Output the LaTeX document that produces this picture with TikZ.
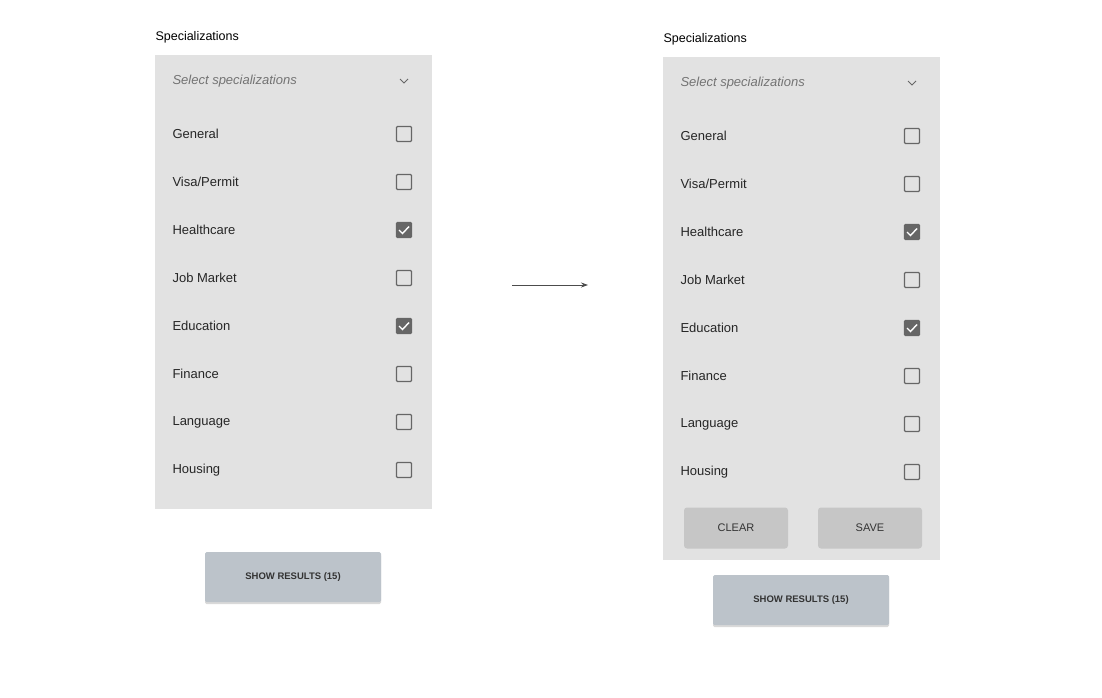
\documentclass[tikz,border=0pt]{standalone}
\usepackage{fontspec}
\setmainfont{Liberation Sans}
\usetikzlibrary{arrows.meta,positioning,shadows}

\definecolor{panelgray}{HTML}{E2E2E2}
\definecolor{btngray}{HTML}{C6C6C6}
\definecolor{showbtn}{HTML}{BCC3CA}
\definecolor{boxgray}{HTML}{666666}

\tikzset{
  panel/.style={fill=panelgray, draw=none},
  label/.style={anchor=west, font=\fontsize{13}{15}\selectfont, text=black!85},
  hint/.style={anchor=west, font=\fontsize{13}{15}\selectfont\itshape, text=black!55},
  title/.style={anchor=west, font=\fontsize{12.5}{15}\selectfont},
  tick/.style={draw=boxgray, line width=1.3pt, rounded corners=1pt, minimum size=15pt, inner sep=0pt},
  ticked/.style={tick, fill=boxgray},
  smallbtn/.style={fill=btngray, rounded corners=3pt, minimum width=104pt, minimum height=41pt, font=\fontsize{11}{13}\selectfont, text=black!80},
  showbox/.style={fill=showbtn, rounded corners=1.5pt, minimum width=176pt, minimum height=50pt, font=\bfseries\fontsize{9.5}{12}\selectfont, text=black!80, drop shadow={shadow xshift=0pt, shadow yshift=-2pt, opacity=0.3}},
}

\begin{document}
\begin{tikzpicture}[x=1pt, y=-1pt]
\useasboundingbox (0,0) rectangle (1102,697);

% left panel (before)
\node[title] (tl) at (152,37) {Specializations};
\fill[panel] (155,55) rectangle (432,509);
\node[hint] (hl) at (169,81) {Select specializations};
\draw[black!60, line width=1pt] (400,79) -- (404,83) -- (408,79);
\foreach \name/\row/\on in {General/0/0, {Visa/Permit}/1/0, Healthcare/2/1, Job Market/3/0,
                            Education/4/1, Finance/5/0, Language/6/0, Housing/7/0} {
  \node[label] (l\row) at (169,134+48*\row) {\name};
  \ifnum\on=1
    \node[ticked] (cl\row) at (404,134+48*\row) {};
    \draw[white, line width=1.4pt] (399,134+48*\row) -- (402.5,137.5+48*\row) -- (409,130.5+48*\row);
  \else
    \node[tick] (cl\row) at (404,134+48*\row) {};
  \fi
}
\node[showbox] (sl) at (293,577) {SHOW RESULTS (15)};

% arrow
\coordinate (a1) at (512,285);
\coordinate (a2) at (588,285);
\draw[-{Stealth[length=7pt,width=5pt]}, black!70, line width=0.8pt] (a1) -- (a2);

% right panel (after)
\node[title] (tr) at (660,39) {Specializations};
\fill[panel] (663,57) rectangle (940,560);
\node[hint] (hr) at (677,83) {Select specializations};
\draw[black!60, line width=1pt] (908,81) -- (912,85) -- (916,81);
\foreach \name/\row/\on in {General/0/0, {Visa/Permit}/1/0, Healthcare/2/1, Job Market/3/0,
                            Education/4/1, Finance/5/0, Language/6/0, Housing/7/0} {
  \node[label] (r\row) at (677,136+48*\row) {\name};
  \ifnum\on=1
    \node[ticked] (cr\row) at (912,136+48*\row) {};
    \draw[white, line width=1.4pt] (907,136+48*\row) -- (910.5,139.5+48*\row) -- (917,132.5+48*\row);
  \else
    \node[tick] (cr\row) at (912,136+48*\row) {};
  \fi
}
\node[smallbtn] (clear) at (736,528) {CLEAR};
\node[smallbtn] (save) at (870,528) {SAVE};
\node[showbox] (sr) at (801,600) {SHOW RESULTS (15)};
\end{tikzpicture}
\end{document}
